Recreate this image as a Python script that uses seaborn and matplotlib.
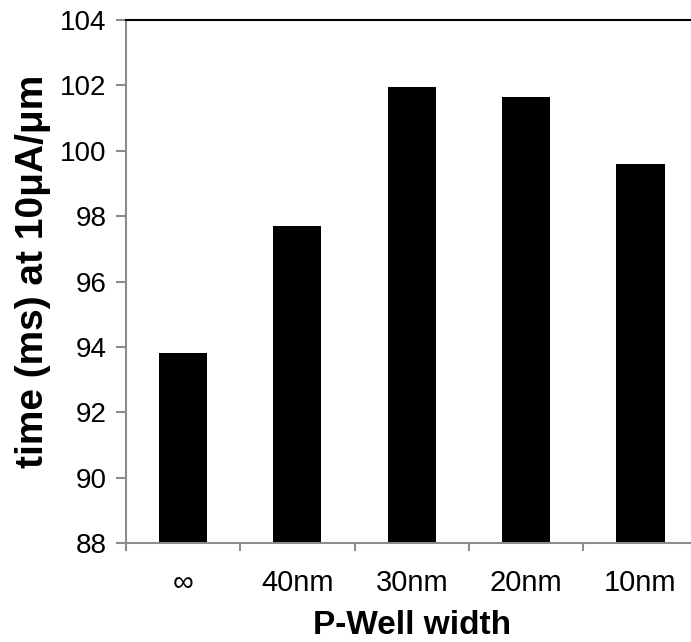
import matplotlib
matplotlib.use("Agg")
import matplotlib.pyplot as plt
import seaborn as sns
import pandas as pd
import numpy as np

categories = ["∞", "40nm", "30nm", "20nm", "10nm"]
values = [93.8, 97.7, 101.94, 101.65, 99.59]
y_ticks = [88, 90, 92, 94, 96, 98, 100, 102, 104]

sns.set_style("white")
plt.rcParams['font.family'] = ['Liberation Sans', 'DejaVu Sans']
plt.rcParams['text.color'] = 'black'
plt.rcParams['axes.labelcolor'] = 'black'

df = pd.DataFrame({"width": categories, "time": values})

fig = plt.figure(figsize=(6.91, 6.42), dpi=100)
ax = fig.add_axes([125.7 / 691, 99 / 642, 572 / 691, 523 / 642])

sns.barplot(data=df, x="width", y="time", color="black", width=0.42,
            saturation=1, edgecolor="none", ax=ax)

ax.set_xlim(-0.5, 4.5)
ax.set_ylim(88, 104)
ax.set_yticks(y_ticks)
ax.set_yticklabels([str(t) for t in y_ticks], fontsize=20)

ax.set_xticks(range(len(categories)))
ax.set_xticklabels(categories, fontsize=21)
ax.set_xticks(np.arange(-0.5, 4.0, 1.0), minor=True)
ax.tick_params(axis="x", which="major", length=0, pad=19, labelcolor="black")
ax.tick_params(axis="x", which="minor", length=6, width=1.5, color="#8c8c8c", direction="out", bottom=True)
ax.tick_params(axis="y", length=7, width=1.5, color="#8c8c8c", direction="out", left=True, pad=7, labelcolor="black")

gray = "#8c8c8c"
ax.spines["left"].set_color(gray)
ax.spines["left"].set_linewidth(1.5)
ax.spines["bottom"].set_color(gray)
ax.spines["bottom"].set_linewidth(1.5)
ax.spines["top"].set_color("black")
ax.spines["top"].set_linewidth(1.5)
ax.spines["right"].set_visible(False)

ax.set_xlabel("P-Well width", fontsize=24, fontweight="bold", color="black")
ax.set_ylabel("time (ms) at 10μA/μm", fontsize=28, fontweight="bold", color="black")
ax.xaxis.label.set_va("baseline")
ax.yaxis.label.set_va("center")
ax.xaxis.set_label_coords(0.5, -0.1735)
ax.yaxis.set_label_coords(-0.162, 0.52)

fig.savefig("out.png", dpi=100)
